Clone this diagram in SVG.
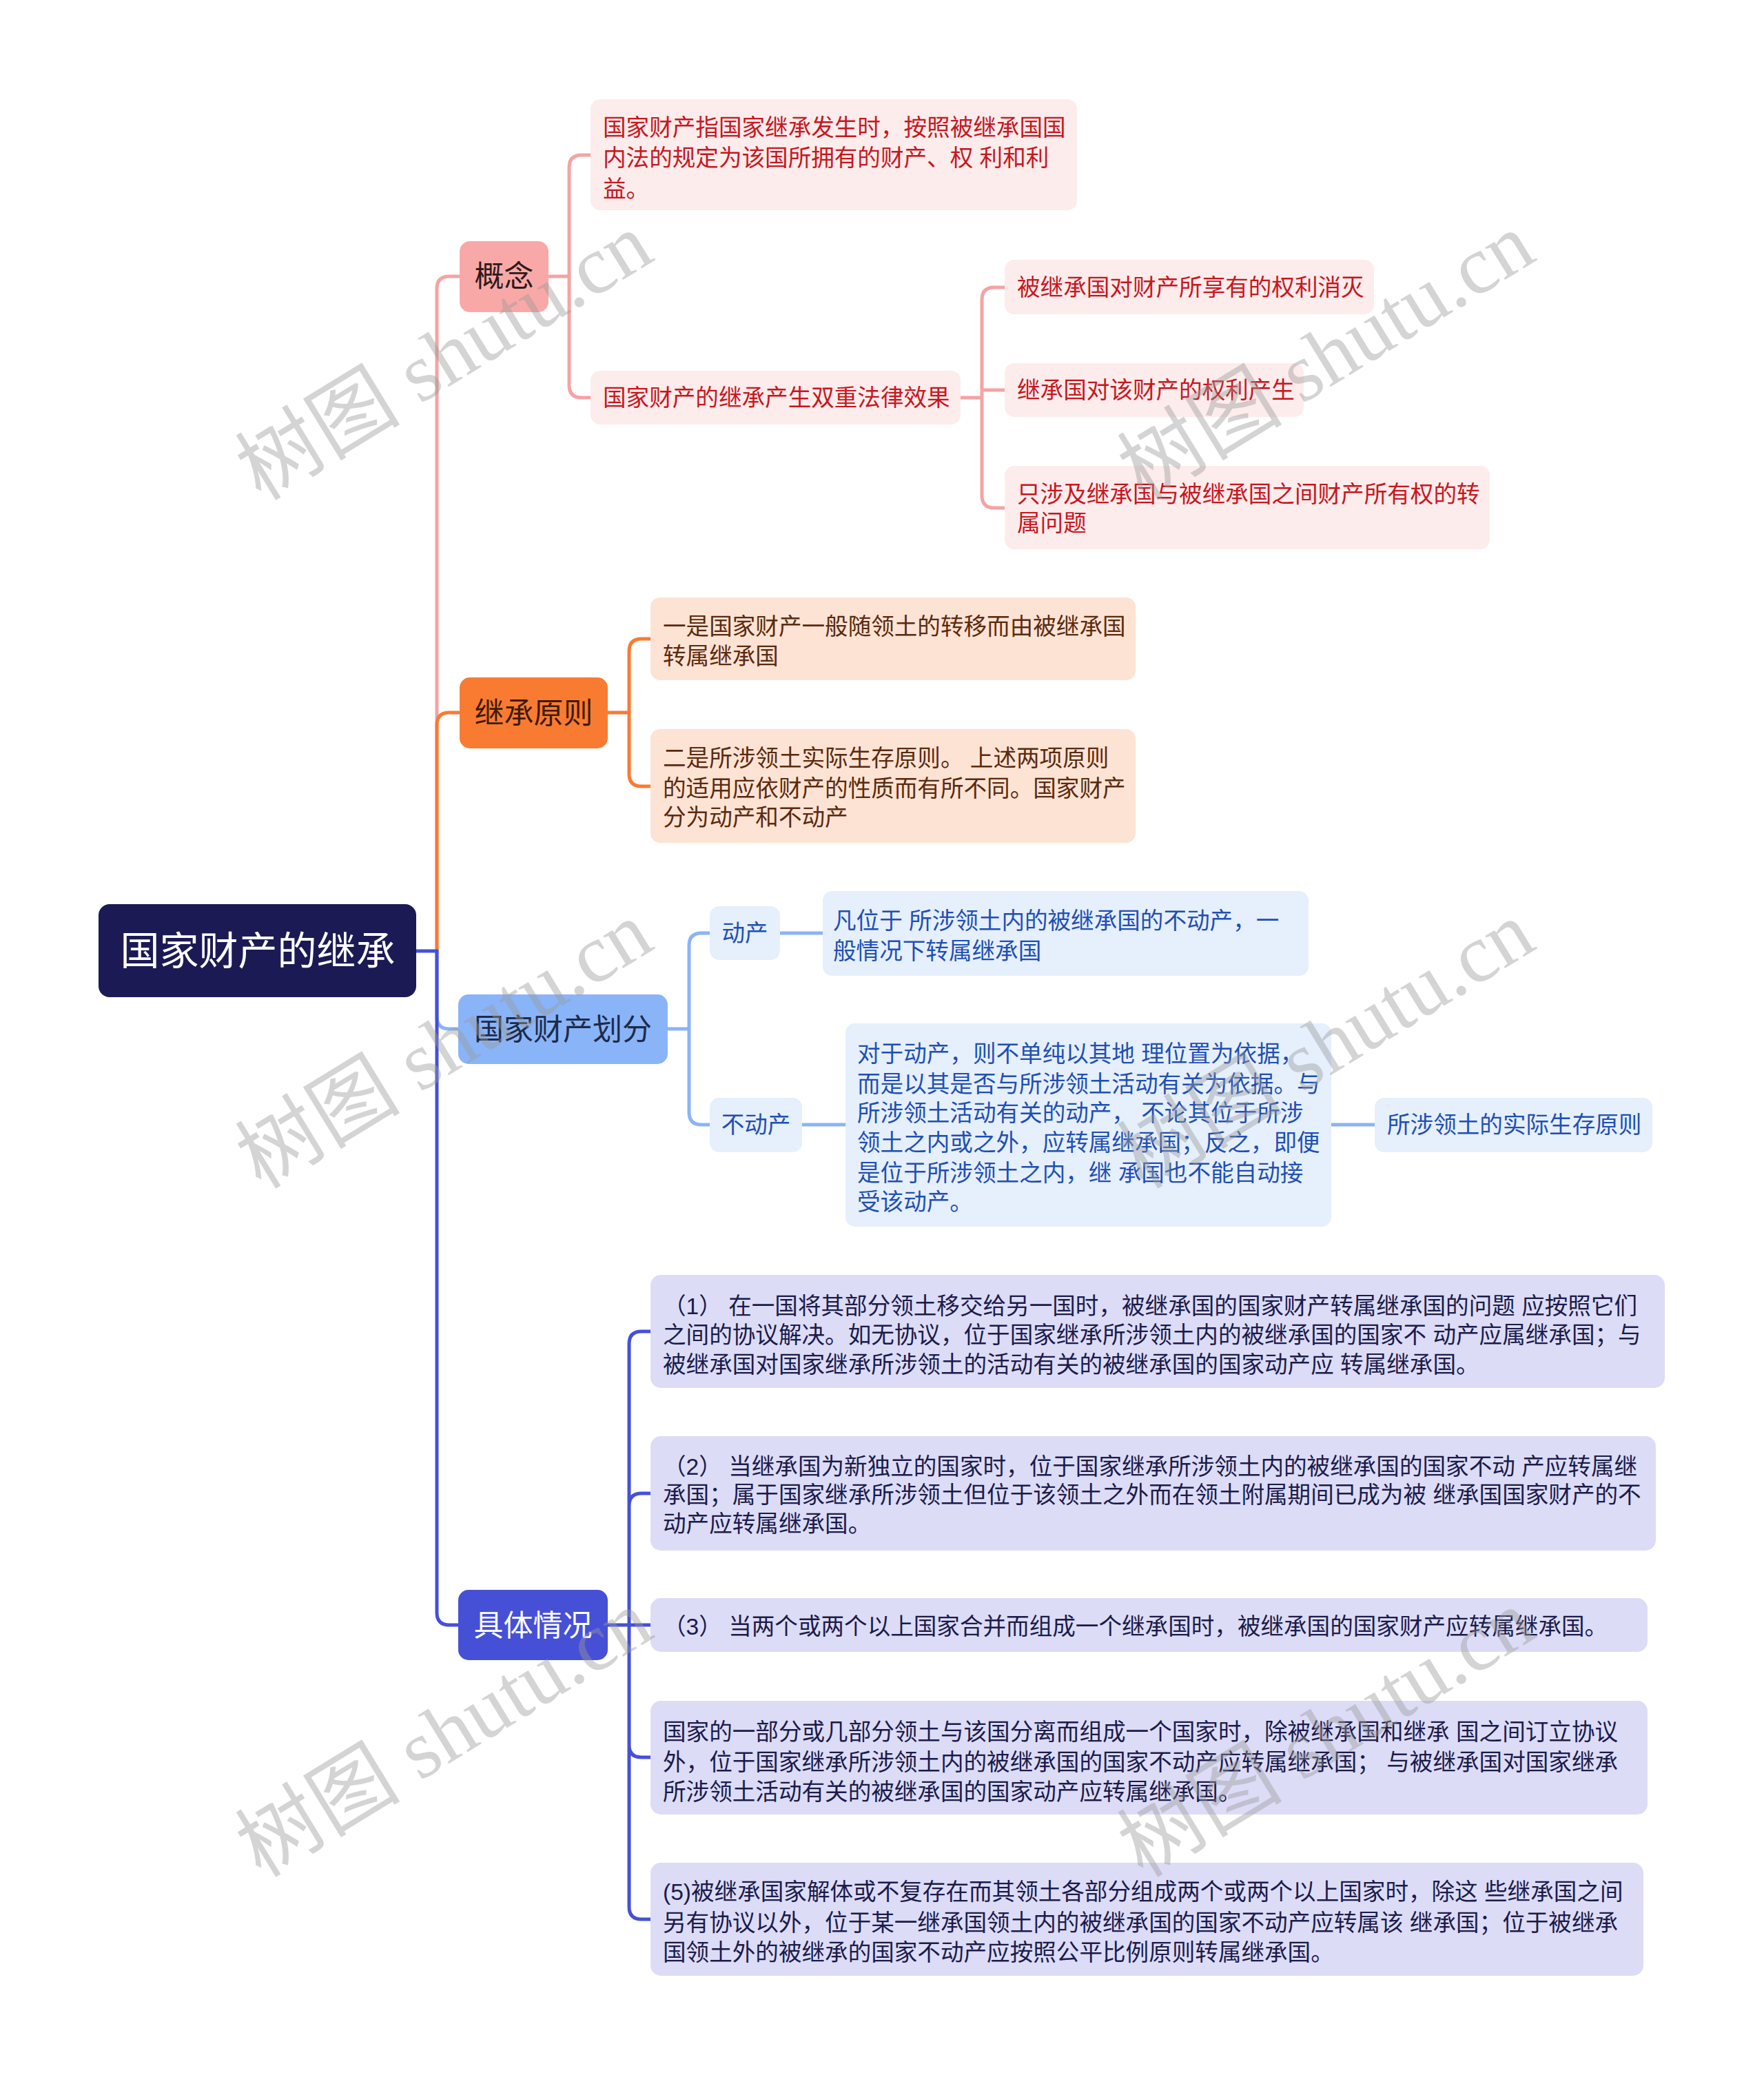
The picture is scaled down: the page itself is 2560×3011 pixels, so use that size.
<svg xmlns="http://www.w3.org/2000/svg" width="2560" height="3011" viewBox="0 0 2560 3011">
<style>
text { font-family: "Liberation Sans", "Noto Sans CJK SC", sans-serif; }
.root-box { fill: #1c1a55; }
.root-t { fill: #ffffff; font-size: 57px; text-anchor: middle; }
.b1 { font-size: 43px; text-anchor: middle; }
.l2 { font-size: 33.6px; }
.mid { text-anchor: middle; }
.pk-box { fill: #f9a8a8; } .pk-t { fill: #2e1a1a; }
.pk-c { fill: #fdecec; } .pk-ct { fill: #c8161d; }
.or-box { fill: #f97b32; } .or-t { fill: #3f1a05; }
.or-c { fill: #fde3d4; } .or-ct { fill: #5b2a0e; }
.lb-box { fill: #8ab4f8; } .lb-t { fill: #1d2b4a; }
.lb-c { fill: #e6effc; } .lb-ct { fill: #1f4fb4; }
.db-box { fill: #4650d6; } .db-t { fill: #ffffff; }
.db-c { fill: #dcdcf7; } .db-ct { fill: #1b1b4b; }
.con { fill: none; stroke-width: 5; stroke-linecap: round; stroke-linejoin: round; }
.c-pk { stroke: #f5a3a3; } .c-or { stroke: #f97b32; } .c-lb { stroke: #8ab4f8; } .c-db { stroke: #4650d6; }
.wm { font-family: "Liberation Serif", "Noto Sans CJK SC", serif; font-size: 120px; fill: #9a9a9a; opacity: 0.42; text-anchor: middle; }
</style>
<rect width="2560" height="3011" fill="#ffffff"/>

<g id="connectors">
  <path class="con c-pk" d="M634 1380 V419 Q634 401 652 401 H667"/>
  <path class="con c-lb" d="M634 1380 V1475 Q634 1493 652 1493 H665"/>
  <path class="con c-or" d="M634 1380 V1052 Q634 1034 652 1034 H667"/>
  <path class="con c-db" d="M634 1380 V2340 Q634 2358 652 2358 H665"/>
  <path class="con c-db" d="M604 1380 H634"/>

  <path class="con c-pk" d="M796 401 H826 M826 401 V243 Q826 225 844 225 H857 M826 401 V559 Q826 577 844 577 H857"/>
  <path class="con c-pk" d="M1394 577 H1425 M1425 577 V435 Q1425 417 1443 417 H1458 M1425 566 H1458 M1425 577 V719 Q1425 737 1443 737 H1458"/>

  <path class="con c-or" d="M882 1034 H913 M913 1034 V945 Q913 927 931 927 H944 M913 1034 V1123 Q913 1141 931 1141 H944"/>

  <path class="con c-lb" d="M969 1493 H1000 M1000 1493 V1372 Q1000 1354 1018 1354 H1030 M1000 1493 V1614 Q1000 1632 1018 1632 H1030"/>
  <path class="con c-lb" d="M1132 1354 H1194 M1164 1632 H1227 M1932 1632 H1995"/>

  <path class="con c-db" d="M882 2358 H944 M913 2358 V1950 Q913 1932 931 1932 H944 M913 2358 V2185 Q913 2167 931 2167 H944 M913 2358 V2532 Q913 2550 931 2550 H944 M913 2358 V2767 Q913 2785 931 2785 H944"/>
</g>

<g id="root">
  <rect class="root-box" x="143" y="1312" width="461" height="135" rx="16"/>
  <text class="root-t" x="374" y="1400">国家财产的继承</text>
</g>

<g id="n-gainian">
  <rect class="pk-box" x="667" y="350" width="129" height="103" rx="15"/>
  <text class="b1 pk-t" x="731.5" y="416">概念</text>
</g>
<g id="n-a1">
  <rect class="pk-c" x="857" y="144" width="706" height="161" rx="14"/>
  <text class="l2 pk-ct" x="875" y="197">国家财产指国家继承发生时，按照被继承国国</text>
  <text class="l2 pk-ct" x="875" y="241">内法的规定为该国所拥有的财产、权 利和利</text>
  <text class="l2 pk-ct" x="875" y="286">益。</text>
</g>
<g id="n-a2">
  <rect class="pk-c" x="857" y="538" width="537" height="78" rx="14"/>
  <text class="l2 pk-ct" x="875" y="589">国家财产的继承产生双重法律效果</text>
</g>
<g id="n-b1">
  <rect class="pk-c" x="1458" y="377" width="536" height="79" rx="14"/>
  <text class="l2 pk-ct" x="1476" y="429">被继承国对财产所享有的权利消灭</text>
</g>
<g id="n-b2">
  <rect class="pk-c" x="1458" y="527" width="434" height="78" rx="14"/>
  <text class="l2 pk-ct" x="1476" y="578">继承国对该财产的权利产生</text>
</g>
<g id="n-b3">
  <rect class="pk-c" x="1458" y="676" width="704" height="121" rx="14"/>
  <text class="l2 pk-ct" x="1476" y="729">只涉及继承国与被继承国之间财产所有权的转</text>
  <text class="l2 pk-ct" x="1476" y="771">属问题</text>
</g>

<g id="n-yuanze">
  <rect class="or-box" x="667" y="983" width="215" height="103" rx="15"/>
  <text class="b1 or-t" x="774.5" y="1050">继承原则</text>
</g>
<g id="n-c1">
  <rect class="or-c" x="944" y="867" width="704" height="120" rx="14"/>
  <text class="l2 or-ct" x="962" y="921">一是国家财产一般随领土的转移而由被继承国</text>
  <text class="l2 or-ct" x="962" y="964">转属继承国</text>
</g>
<g id="n-c2">
  <rect class="or-c" x="944" y="1058" width="704" height="165" rx="14"/>
  <text class="l2 or-ct" x="962" y="1112">二是所涉领土实际生存原则。 上述两项原则</text>
  <text class="l2 or-ct" x="962" y="1156">的适用应依财产的性质而有所不同。国家财产</text>
  <text class="l2 or-ct" x="962" y="1198">分为动产和不动产</text>
</g>

<g id="n-huafen">
  <rect class="lb-box" x="665" y="1443" width="304" height="101" rx="15"/>
  <text class="b1 lb-t" x="817" y="1509">国家财产划分</text>
</g>
<g id="n-d1">
  <rect class="lb-c" x="1030" y="1315" width="102" height="78" rx="14"/>
  <text class="l2 lb-ct mid" x="1081" y="1366">动产</text>
</g>
<g id="n-d2">
  <rect class="lb-c" x="1030" y="1593" width="134" height="79" rx="14"/>
  <text class="l2 lb-ct mid" x="1097" y="1644">不动产</text>
</g>
<g id="n-e1">
  <rect class="lb-c" x="1194" y="1293" width="705" height="123" rx="14"/>
  <text class="l2 lb-ct" x="1209" y="1348">凡位于 所涉领土内的被继承国的不动产，一</text>
  <text class="l2 lb-ct" x="1209" y="1392">般情况下转属继承国</text>
</g>
<g id="n-e2">
  <rect class="lb-c" x="1227" y="1485" width="705" height="295" rx="14"/>
  <text class="l2 lb-ct" x="1244" y="1541">对于动产，则不单纯以其地 理位置为依据，</text>
  <text class="l2 lb-ct" x="1244" y="1585">而是以其是否与所涉领土活动有关为依据。与</text>
  <text class="l2 lb-ct" x="1244" y="1627">所涉领土活动有关的动产， 不论其位于所涉</text>
  <text class="l2 lb-ct" x="1244" y="1670">领土之内或之外，应转属继承国；反之，即便</text>
  <text class="l2 lb-ct" x="1244" y="1714">是位于所涉领土之内，继 承国也不能自动接</text>
  <text class="l2 lb-ct" x="1244" y="1756">受该动产。</text>
</g>
<g id="n-f">
  <rect class="lb-c" x="1995" y="1593" width="403" height="79" rx="14"/>
  <text class="l2 lb-ct" x="2013" y="1644">所涉领土的实际生存原则</text>
</g>

<g id="n-juti">
  <rect class="db-box" x="665" y="2307" width="217" height="102" rx="15"/>
  <text class="b1 db-t" x="773.5" y="2374">具体情况</text>
</g>
<g id="n-g1">
  <rect class="db-c" x="944" y="1850" width="1472" height="164" rx="15"/>
  <text class="l2 db-ct" x="962" y="1907">（1） 在一国将其部分领土移交给另一国时，被继承国的国家财产转属继承国的问题 应按照它们</text>
  <text class="l2 db-ct" x="962" y="1949">之间的协议解决。如无协议，位于国家继承所涉领土内的被继承国的国家不 动产应属继承国；与</text>
  <text class="l2 db-ct" x="962" y="1992">被继承国对国家继承所涉领土的活动有关的被继承国的国家动产应 转属继承国。</text>
</g>
<g id="n-g2">
  <rect class="db-c" x="944" y="2084" width="1459" height="166" rx="15"/>
  <text class="l2 db-ct" x="962" y="2140">（2） 当继承国为新独立的国家时，位于国家继承所涉领土内的被继承国的国家不动 产应转属继</text>
  <text class="l2 db-ct" x="962" y="2181">承国；属于国家继承所涉领土但位于该领土之外而在领土附属期间已成为被 继承国国家财产的不</text>
  <text class="l2 db-ct" x="962" y="2223">动产应转属继承国。</text>
</g>
<g id="n-g3">
  <rect class="db-c" x="944" y="2319" width="1447" height="78" rx="15"/>
  <text class="l2 db-ct" x="962" y="2372">（3） 当两个或两个以上国家合并而组成一个继承国时，被继承国的国家财产应转属继承国。</text>
</g>
<g id="n-g4">
  <rect class="db-c" x="944" y="2468" width="1447" height="165" rx="15"/>
  <text class="l2 db-ct" x="962" y="2525">国家的一部分或几部分领土与该国分离而组成一个国家时，除被继承国和继承 国之间订立协议</text>
  <text class="l2 db-ct" x="962" y="2569">外，位于国家继承所涉领土内的被继承国的国家不动产应转属继承国； 与被继承国对国家继承</text>
  <text class="l2 db-ct" x="962" y="2612">所涉领土活动有关的被继承国的国家动产应转属继承国。</text>
</g>
<g id="n-g5">
  <rect class="db-c" x="944" y="2703" width="1441" height="164" rx="15"/>
  <text class="l2 db-ct" x="962" y="2757">(5)被继承国家解体或不复存在而其领土各部分组成两个或两个以上国家时，除这 些继承国之间</text>
  <text class="l2 db-ct" x="962" y="2802">另有协议以外，位于某一继承国领土内的被继承国的国家不动产应转属该 继承国；位于被继承</text>
  <text class="l2 db-ct" x="962" y="2845">国领土外的被继承的国家不动产应按照公平比例原则转属继承国。</text>
</g>

<g id="watermarks">
  <text class="wm" transform="translate(645 518) rotate(-31.5)" y="40">树图 shutu.cn</text>
  <text class="wm" transform="translate(1925 518) rotate(-31.5)" y="40">树图 shutu.cn</text>
  <text class="wm" transform="translate(645 1517) rotate(-31.5)" y="40">树图 shutu.cn</text>
  <text class="wm" transform="translate(1925 1517) rotate(-31.5)" y="40">树图 shutu.cn</text>
  <text class="wm" transform="translate(645 2516) rotate(-31.5)" y="40">树图 shutu.cn</text>
  <text class="wm" transform="translate(1925 2516) rotate(-31.5)" y="40">树图 shutu.cn</text>
</g>
</svg>
